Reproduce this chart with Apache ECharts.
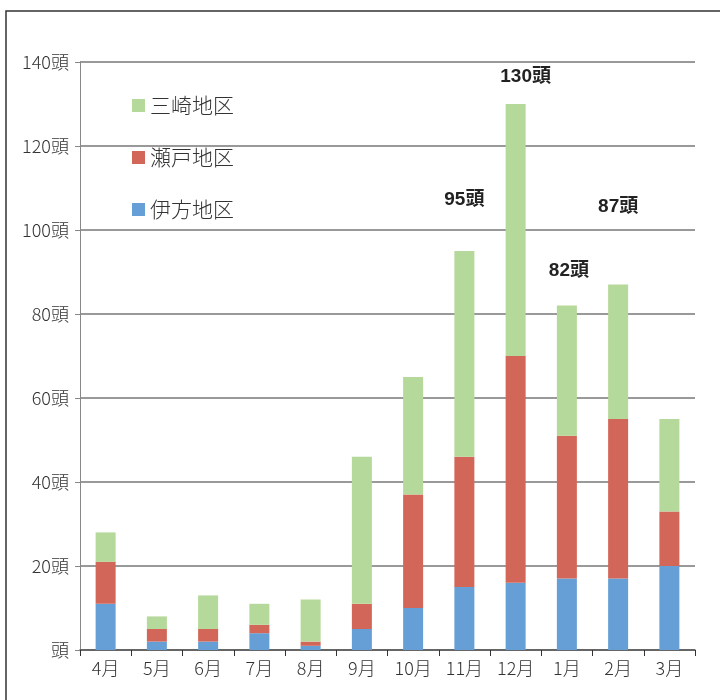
<!DOCTYPE html>
<html><head><meta charset="utf-8">
<script src="https://cdn.jsdelivr.net/npm/echarts@6/dist/echarts.min.js"></script>
<style>html,body{margin:0;padding:0;background:#fff}#c{width:720px;height:700px}</style>
</head><body><div id="c"></div>
<script>
const months = ['4月','5月','6月','7月','8月','9月','10月','11月','12月','1月','2月','3月'];
const ikata = [11,2,2,4,1,5,10,15,16,17,17,20];
const seto  = [10,3,3,2,1,6,27,31,54,34,38,13];
const misaki= [7,3,8,5,10,35,28,49,60,31,32,22];
const yTicks = [0,20,40,60,80,100,120,140];
const labelled = {7:{d:42,dx:0}, 8:{d:18,dx:10}, 9:{d:25,dx:2}, 10:{d:68,dx:0}};

const font = '"Noto Sans CJK JP", "Noto Sans", sans-serif';
const numFont = '"Liberation Sans", "Noto Sans CJK JP", sans-serif';
const chart = echarts.init(document.getElementById('c'));
const misakiData = misaki.map((v,i)=>{
  const l = labelled[i];
  if (l !== undefined) return {value:v, label:{show:true, distance:l.d, offset:[l.dx,0]}};
  return v;
});
chart.setOption({
  animation:false,
  textStyle:{fontFamily:font},
  grid:{left:80, right:25, top:62, bottom:50},
  legend:{
    orient:'vertical', left:127, top:90, itemGap:31, itemWidth:13, itemHeight:13,
    icon:'rect',
    textStyle:{fontSize:21, color:'#333', fontFamily:font, fontWeight:300},
    data:['三崎地区','瀬戸地区','伊方地区']
  },
  xAxis:{
    type:'category', data:months,
    axisLine:{lineStyle:{color:'#555', width:1.5}},
    axisTick:{show:true, length:6, lineStyle:{color:'#333'}},
    axisLabel:{fontSize:18, color:'#333', margin:9, fontWeight:300}
  },
  yAxis:{
    type:'value', min:0, max:140, interval:20,
    axisLine:{show:true, lineStyle:{color:'#888', width:1}},
    axisTick:{show:true, length:5, lineStyle:{color:'#888'}},
    splitLine:{lineStyle:{color:'#777', width:1.5}},
    axisLabel:{fontSize:18, color:'#333', margin:11, fontWeight:300,
      formatter:v=> yTicks.includes(v) ? (v===0?'頭':v+'頭') : ''}
  },
  series:[
    {name:'伊方地区', type:'bar', stack:'t', barWidth:20, data:ikata, itemStyle:{color:'#659fd5'}},
    {name:'瀬戸地区', type:'bar', stack:'t', barWidth:20, data:seto, itemStyle:{color:'#d26659'}},
    {name:'三崎地区', type:'bar', stack:'t', barWidth:20, data:misakiData, itemStyle:{color:'#b5d99a'},
      label:{show:false, position:'top', fontSize:19, fontWeight:'bold', color:'#222', fontFamily:numFont,
        formatter:p=> (ikata[p.dataIndex]+seto[p.dataIndex]+misaki[p.dataIndex])+'頭'}}
  ],
  graphic:[{type:'rect', shape:{x:6,y:11,width:800,height:800}, style:{fill:'none', stroke:'#333', lineWidth:1.5}, silent:true}]
});
</script></body></html>
